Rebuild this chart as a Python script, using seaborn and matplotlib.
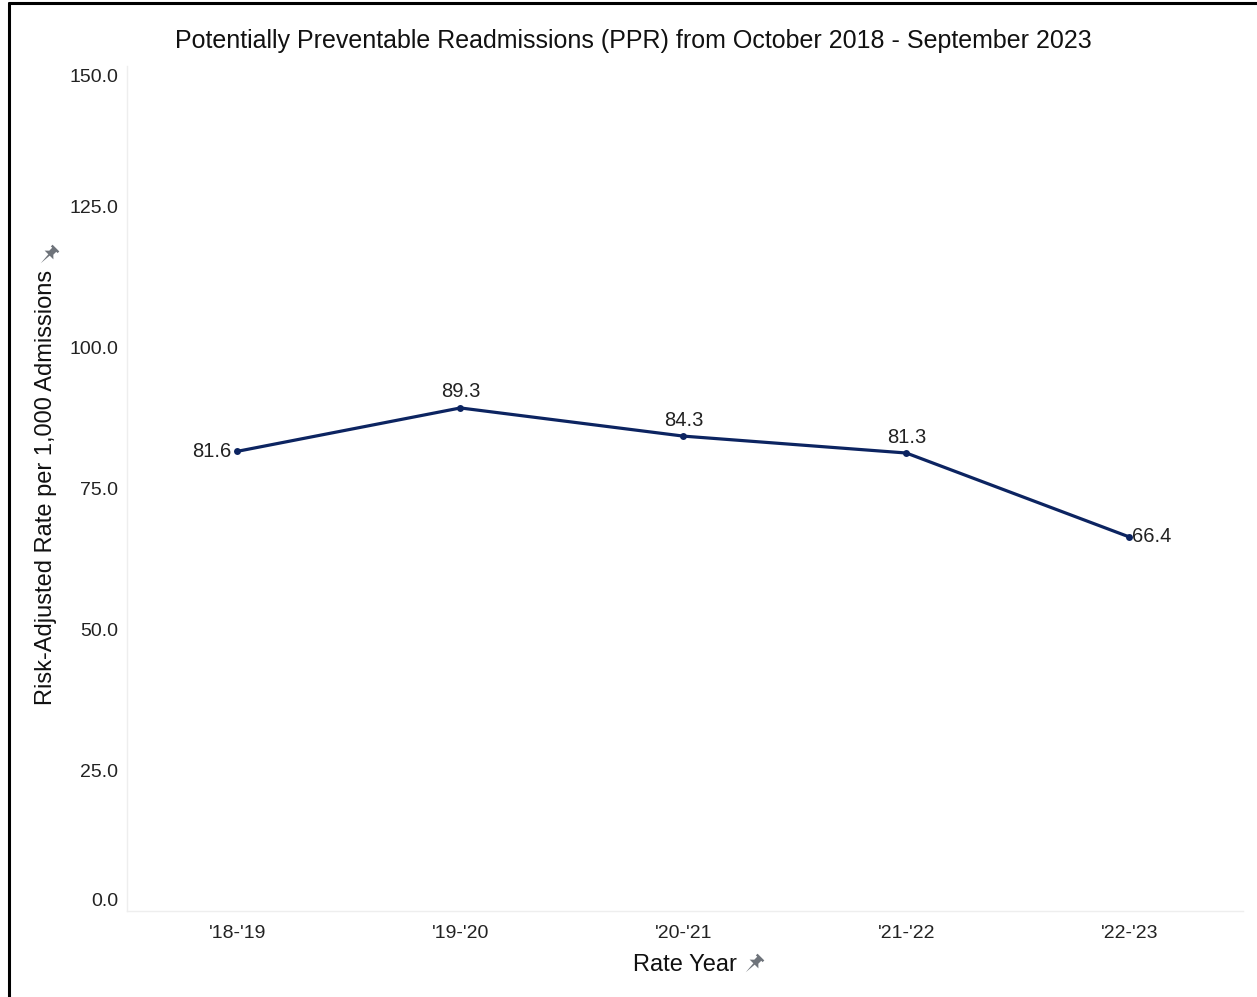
import matplotlib
matplotlib.use("Agg")
import matplotlib.pyplot as plt
import matplotlib.transforms as mtransforms
import numpy as np
import pandas as pd
import seaborn as sns
from matplotlib.path import Path
from matplotlib.lines import Line2D

# Rate years and risk-adjusted PPR rates
rate_years = ["'18-'19", "'19-'20", "'20-'21", "'21-'22", "'22-'23"]
ppr_rates = [81.6, 89.3, 84.3, 81.3, 66.4]
y_ticks = [0, 25, 50, 75, 100, 125, 150]

df = pd.DataFrame({"Rate Year": rate_years, "Rate": ppr_rates})
df["pos"] = np.arange(len(df))

sns.set_style("white")
plt.rcParams["font.family"] = ["Liberation Sans", "DejaVu Sans"]

W, H = 1257, 997
fig = plt.figure(figsize=(W / 100, H / 100), dpi=100)
ax = fig.add_axes([127 / W, 1 - 911 / H, (1243 - 127) / W, (911 - 66) / H])

navy = "#0c2461"
sns.lineplot(data=df, x="pos", y="Rate", ax=ax, color=navy, linewidth=2.3,
             marker="o", markersize=5, markeredgewidth=0)

ax.set_xlim(-0.495, 4.51)
ax.set_ylim(0, 150)
ax.set_xticks(df["pos"])
ax.set_xticklabels(rate_years)
ax.set_yticks(y_ticks)
ax.set_yticklabels([f"{v:.1f}" for v in y_ticks])
ax.tick_params(axis="x", length=4, color="#eeeeee", labelsize=14, pad=6, labelcolor="#222222")
ax.tick_params(axis="y", length=0, labelsize=14, pad=6.5, labelcolor="#222222")
for side in ["top", "right"]:
    ax.spines[side].set_visible(False)
for side in ["left", "bottom"]:
    ax.spines[side].set_color("#eeeeee")
    ax.spines[side].set_linewidth(1)
ax.grid(False)
ax.set_xlabel("")
ax.set_ylabel("")

# Keep the end tick labels inside the axis range
ylabels = ax.get_yticklabels()
shift_up = mtransforms.ScaledTranslation(0, 12 / 100, fig.dpi_scale_trans)
shift_down = mtransforms.ScaledTranslation(0, -10 / 100, fig.dpi_scale_trans)
ylabels[0].set_transform(ylabels[0].get_transform() + shift_up)
ylabels[-1].set_transform(ylabels[-1].get_transform() + shift_down)

# Value labels
for i, v in enumerate(ppr_rates):
    if i == 0:
        ax.annotate(f"{v:.1f}", (i, v), xytext=(-4, 0), textcoords="offset points",
                    ha="right", va="center", fontsize=14.5, color="#222222")
    elif i == len(ppr_rates) - 1:
        ax.annotate(f"{v:.1f}", (i, v), xytext=(2, 0), textcoords="offset points",
                    ha="left", va="center", fontsize=14.5, color="#222222")
    else:
        ax.annotate(f"{v:.1f}", (i, v), xytext=(0, 11.5), textcoords="offset points",
                    ha="center", va="center", fontsize=14.5, color="#222222")

fig.text(633 / W, 1 - 41 / H,
         "Potentially Preventable Readmissions (PPR) from October 2018 - September 2023",
         ha="center", va="center", fontsize=18, color="#111111")
fig.text(685 / W, 1 - 965 / H, "Rate Year", ha="center", va="center",
         fontsize=17, color="#111111")
fig.text(46 / W, 1 - 487 / H, "Risk-Adjusted Rate per 1,000 Admissions",
         ha="center", va="center", rotation=90, fontsize=17, color="#111111")

# Push-pin glyph beside the axis titles
pin = np.array([(-0.4, 1.0), (0.4, 1.0), (0.4, 0.8), (0.24, 0.8), (0.24, 0.45),
                (0.52, 0.18), (0.08, 0.18), (0.0, -0.8), (-0.08, 0.18), (-0.52, 0.18),
                (-0.24, 0.45), (-0.24, 0.8), (-0.4, 0.8), (-0.4, 1.0)])
th = np.deg2rad(-45)
rot = np.array([[np.cos(th), -np.sin(th)], [np.sin(th), np.cos(th)]])
pin_r = pin @ rot.T
codes = [Path.MOVETO] + [Path.LINETO] * (len(pin_r) - 2) + [Path.CLOSEPOLY]
pin_path = Path(pin_r, codes)
for px, py in [(752, 965), (47, 256)]:
    fig.add_artist(Line2D([px / W], [1 - py / H], marker=pin_path, markersize=17,
                          color="#6e737a", markeredgewidth=0, linestyle="none",
                          transform=fig.transFigure))

# Frame lines on the top and left edges
fig.add_artist(Line2D([9 / W, 1], [1 - 3.5 / H, 1 - 3.5 / H], color="black",
                      linewidth=2.2, transform=fig.transFigure))
fig.add_artist(Line2D([9 / W, 9 / W], [0, 1 - 3.5 / H], color="black",
                      linewidth=2.2, transform=fig.transFigure))

fig.savefig("out.png", dpi=100, facecolor="white")
